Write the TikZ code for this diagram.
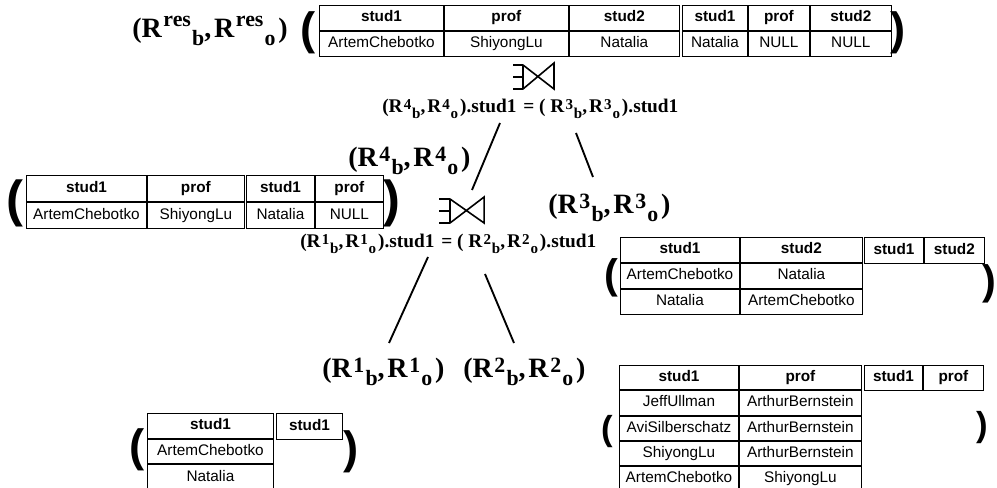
\documentclass[tikz,border=0pt]{standalone}
\usepackage{fontspec}
\setmainfont{Liberation Serif}
\setsansfont{Liberation Sans}
\usetikzlibrary{matrix}

\newcommand\fsz[1]{\fontsize{#1}{#1}\selectfont}
\newcommand\cellfont{\sffamily\fsz{11.5}}
% R^k_b,R^k_o  (#1 lift of the index, #2 base size, #3 index)
\newcommand\rr[3][.2em]{R\kern.06em\raisebox{#1}{\fsz{\fpeval{0.78*#2}}#3}\kern.04em\raisebox{-.26em}{\fsz{\fpeval{0.78*#2}}b},\kern.1em R\kern.06em\raisebox{#1}{\fsz{\fpeval{0.78*#2}}#3}\kern.04em\raisebox{-.26em}{\fsz{\fpeval{0.78*#2}}o}\kern.1em}

\tikzset{
  tbl/.style={matrix of nodes, anchor=north west, inner sep=0pt, outer sep=0pt,
    column sep=0pt, row sep=0pt,
    nodes={draw, line width=.7pt, inner sep=0pt, outer sep=0pt, font=\cellfont,
      text height=8.5pt, text depth=2.5pt, minimum height=#1},
    row 1/.style={nodes={font=\cellfont\bfseries}}},
  tbl/.default=18.75pt,
  cw/.style 2 args={column #1/.style={nodes={minimum width=#2}}},
  brk/.style={font=\sffamily\bfseries\fsz{#1}, inner sep=0pt},
  lab/.style={font=\bfseries\fsz{21}, inner sep=0pt, anchor=base west},
  cnd/.style={font=\bfseries\fsz{14.5}, inner sep=0pt, anchor=base west},
  edge/.style={line width=1.4pt},
  ejoin/.pic={
    \draw[line width=1.2pt] (0,2) -- (10,2) (0,14) -- (10,14) (0,26) -- (10,26)
      (10,2) -- (10,26) (10,2) -- (41,26) -- (41,0) -- (10,26);
  },
}

\begin{document}
\begin{tikzpicture}[x=0.75pt,y=-0.75pt]
  \useasboundingbox (0,0) rectangle (997,488);

  % result of the outer join
  \node[lab] (rres) at (132,38) {(\rr[.4em]{21}{res})};
  \node[brk=34] (pres1) at (308,33) {(};
  \matrix[tbl, cw={1}{93pt}, cw={2}{93pt}, cw={3}{82.5pt}] (resj) at (319,5) {
    stud1 & prof & stud2 \\
    ArtemChebotko & ShiyongLu & Natalia \\
  };
  \matrix[tbl, cw={1}{48.75pt}, cw={2}{45.75pt}, cw={3}{60.75pt}] (resn) at (682,5) {
    stud1 & prof & stud2 \\
    Natalia & NULL & NULL \\
  };
  \node[brk=34] (pres2) at (898,33) {)};

  \pic at (513,63) {ejoin};
  \node[cnd] (c43) at (382,113) {(\rr{14.5}{4}).stud1 \kern.1em= ( \rr{14.5}{3}).stud1};

  % left operand
  \node[lab] (r4) at (348,167) {(\rr{21}{4})};
  \node[brk=38] (p41) at (15,203) {(};
  \matrix[tbl=19.5pt, cw={1}{90pt}, cw={2}{72.75pt}] (r4j) at (26,175) {
    stud1 & prof \\
    ArtemChebotko & ShiyongLu \\
  };
  \matrix[tbl=19.5pt, cw={1}{51pt}, cw={2}{51pt}] (r4n) at (246,175) {
    stud1 & prof \\
    Natalia & NULL \\
  };
  \node[brk=38] (p42) at (392,203) {)};

  \pic[xscale=1.1] at (439,197) {ejoin};
  \node[cnd] (c12) at (300,248) {(\rr{14.5}{1}).stud1 \kern.1em= ( \rr{14.5}{2}).stud1};

  % right operand
  \node[lab] (r3) at (548,214) {(\rr{21}{3})};
  \node[brk=31] (p31) at (611,278) {(};
  \matrix[tbl, cw={1}{89.25pt}, cw={2}{91.5pt}] (r3j) at (620,237) {
    stud1 & stud2 \\
    ArtemChebotko & Natalia \\
    Natalia & ArtemChebotko \\
  };
  \matrix[tbl=19.5pt, cw={1}{44.25pt}, cw={2}{45pt}] (r3n) at (864,237) {
    stud1 & stud2 \\
  };
  \node[brk=31] (p32) at (989,284) {)};

  % base relations
  \node[lab] (r1) at (322,378) {(\rr{21}{1})};
  \node[lab] (r2) at (463,378) {(\rr{21}{2})};

  \node[brk=34] (p11) at (137,450) {(};
  \matrix[tbl=18.5pt, cw={1}{94.5pt}] (r1j) at (147,413) {
    stud1 \\
    ArtemChebotko \\
    Natalia \\
  };
  \matrix[tbl=19.5pt, cw={1}{49.5pt}] (r1n) at (276,413) {
    stud1 \\
  };
  \node[brk=34] (p12) at (351,452) {)};

  \node[brk=26] (p21) at (607,432) {(};
  \matrix[tbl=18.3pt, cw={1}{89.25pt}, cw={2}{91.5pt}] (r2j) at (619,365) {
    stud1 & prof \\
    JeffUllman & ArthurBernstein \\
    AviSilberschatz & ArthurBernstein \\
    ShiyongLu & ArthurBernstein \\
    ArtemChebotko & ShiyongLu \\
  };
  \matrix[tbl, cw={1}{43.5pt}, cw={2}{45pt}] (r2n) at (864,365) {
    stud1 & prof \\
  };
  \node[brk=26] (p22) at (982,428) {)};

  % tree edges
  \coordinate (c43l) at (500,123);
  \coordinate (c43r) at (576,133);
  \coordinate (in4) at (472,190);
  \coordinate (in3) at (593,177);
  \coordinate (c12l) at (428,257);
  \coordinate (c12r) at (485,274);
  \coordinate (in1) at (389,343);
  \coordinate (in2) at (514,343);
  \draw[edge] (c43l) -- (in4);
  \draw[edge] (c43r) -- (in3);
  \draw[edge] (c12l) -- (in1);
  \draw[edge] (c12r) -- (in2);
\end{tikzpicture}
\end{document}
